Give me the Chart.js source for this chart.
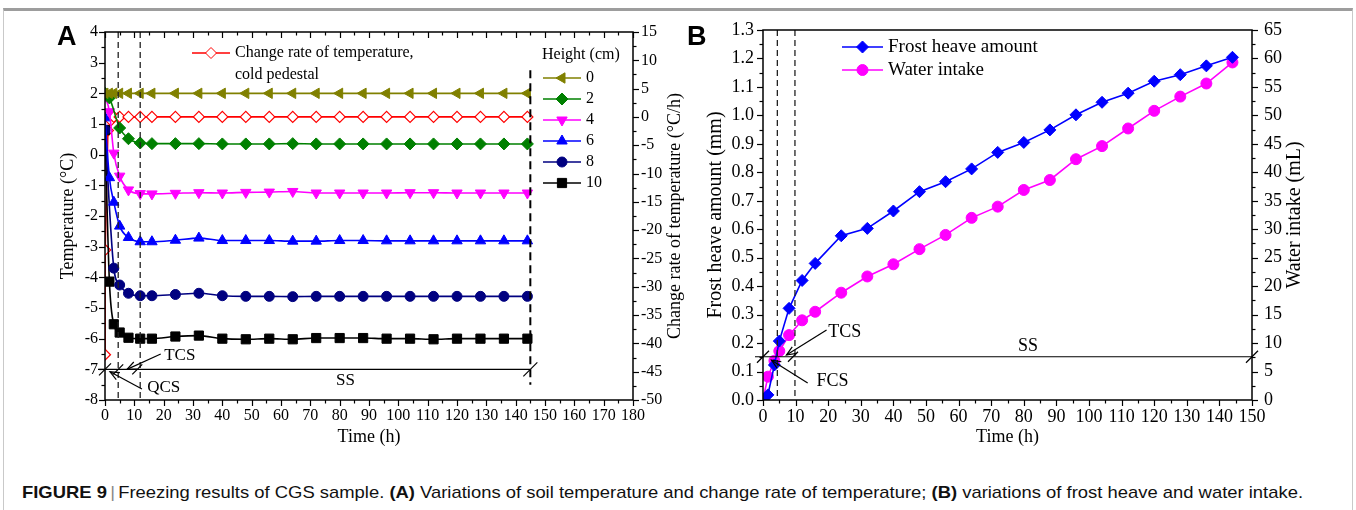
<!DOCTYPE html>
<html>
<head>
<meta charset="utf-8">
<script src="https://cdn.jsdelivr.net/npm/chart.js@4.4.1/dist/chart.umd.min.js"></script>
<style>
  html, body { margin:0; padding:0; background:#fff; }
  body { width:1356px; height:510px; position:relative; overflow:hidden; }
  .frame { position:absolute; left:3px; top:8px; width:1348px; height:520px;
           border-top:3px solid #9d9d9d; border-left:1px solid #c9c9c9; border-right:1px solid #c9c9c9; }
  #cA { position:absolute; left:0; top:0; }
  #cB { position:absolute; left:690px; top:0; }
  .panel { position:absolute; font-family:"Liberation Sans", Arial, sans-serif; font-weight:bold; font-size:27px; line-height:1; }
  #caption { position:absolute; left:22px; top:483px; white-space:nowrap; transform-origin:left top;
             font-family:"Liberation Sans Narrow", "Liberation Sans", Arial, sans-serif; font-size:17px; color:#111; }
  #caption b { font-weight:bold; }
  #caption .bar { color:#888; padding:0 3px; }
</style>
</head>
<body>
<div class="frame"></div>
<canvas id="cA" width="690" height="460"></canvas>
<canvas id="cB" width="666" height="460"></canvas>
<div class="panel" style="left:57px; top:23px;">A</div>
<div class="panel" style="left:687px; top:23px;">B</div>
<div id="caption"><b>FIGURE 9</b><span class="bar">|</span>Freezing results of CGS sample. <b>(A)</b> Variations of soil temperature and change rate of temperature; <b>(B)</b> variations of frost heave and water intake.</div>
<script>
/* ========= Datos (panel A) ========= */
const hoursA = [0, 1.5, 3, 5, 8, 12, 16, 24, 32, 40, 48, 56, 64, 72, 80, 88, 96, 104, 112, 120, 128, 136, 144];
const heightLabels = ['0', '2', '4', '6', '8', '10'];
const temp0  = [2.0, 2.0, 2.0, 2.0, 2.0, 2.0, 2.0, 2.0, 2.0, 2.0, 2.0, 2.0, 2.0, 2.0, 2.0, 2.0, 2.0, 2.0, 2.0, 2.0, 2.0, 2.0, 2.0];
const temp2  = [2.0, 1.85, null, 0.87, 0.52, 0.38, 0.36, 0.36, 0.36, 0.35, 0.35, 0.35, 0.36, 0.35, 0.35, 0.35, 0.35, 0.35, 0.35, 0.35, 0.35, 0.35, 0.35];
const temp4  = [1.9, 1.4, 0.05, -0.7, -1.15, -1.27, -1.28, -1.26, -1.24, -1.25, -1.23, -1.22, -1.2, -1.25, -1.25, -1.25, -1.25, -1.24, -1.24, -1.25, -1.25, -1.25, -1.25];
const temp6  = [1.2, -0.75, -1.55, -2.33, -2.7, -2.84, -2.84, -2.79, -2.72, -2.8, -2.8, -2.8, -2.82, -2.82, -2.8, -2.8, -2.81, -2.81, -2.81, -2.81, -2.81, -2.81, -2.81];
const temp8  = [0.8, null, -3.7, -4.25, -4.52, -4.6, -4.6, -4.56, -4.52, -4.6, -4.62, -4.62, -4.63, -4.62, -4.62, -4.62, -4.62, -4.62, -4.62, -4.62, -4.62, -4.62, -4.62];
const temp10 = [0.8, -4.14, -5.53, -5.8, -5.97, -6.0, -6.0, -5.93, -5.9, -6.0, -6.02, -6.0, -6.02, -5.98, -5.98, -5.98, -6.0, -6.0, -6.02, -6.0, -6.0, -6.0, -6.0];
const rateHours  = [0, 0.05, 1, 2, 3, 5, 8, 12, 16, 24, 32, 40, 48, 56, 64, 72, 80, 88, 96, 104, 112, 120, 128, 136, 144];
const rateValues = [-42, -23.5, -2.4, -0.6, 0, 0, 0, 0, 0, 0, 0, 0, 0, 0, 0, 0, 0, 0, 0, 0, 0, 0, 0, 0, 0];
const stageA = { quick: 4.5, transit: 12, end: 145, level: -7 };

/* ========= Datos (panel B) ========= */
const hoursB = [0, 1.5, 3.5, 5, 8, 12, 16, 24, 32, 40, 48, 56, 64, 72, 80, 88, 96, 104, 112, 120, 128, 136, 144];
const frostHeave  = [0, 0.018, 0.123, 0.207, 0.322, 0.42, 0.48, 0.577, 0.603, 0.664, 0.732, 0.767, 0.812, 0.87, 0.905, 0.949, 1.002, 1.046, 1.078, 1.12, 1.143, 1.174, 1.204];
const waterIntake = [0, 4.1, 6.9, 8.6, 11.4, 14.0, 15.5, 18.85, 21.7, 23.84, 26.5, 29.0, 32.0, 33.97, 36.9, 38.65, 42.3, 44.6, 47.7, 50.8, 53.3, 55.6, 59.3];
const stageB = { fast: 4.4, transit: 9.8, level: 0.152 };

/* ========= Estilo ========= */
const INK = '#000';
const SERIF = '"Liberation Serif", "Times New Roman", serif';
const seriesA = [
  { label: heightLabels[0], data: temp0,  color: '#808000', style: 'triangle', rot: -90, r: 6 },
  { label: heightLabels[1], data: temp2,  color: '#008000', style: 'rectRot',  rot: 0,   r: 6 },
  { label: heightLabels[2], data: temp4,  color: '#ff00ff', style: 'triangle', rot: 180, r: 6 },
  { label: heightLabels[3], data: temp6,  color: '#0000ff', style: 'triangle', rot: 0,   r: 6 },
  { label: heightLabels[4], data: temp8,  color: '#000080', style: 'circle',   rot: 0,   r: 5 },
  { label: heightLabels[5], data: temp10, color: '#000000', style: 'rect',     rot: 0,   r: 6.5 },
];

const xy = (xs, ys) => xs.map((x, i) => ({ x, y: ys[i] }));

/* ========= utils de dibujo ========= */
function marker(ctx, style, rot, r, x, y, fill, stroke) {
  ctx.save();
  ctx.fillStyle = fill; ctx.strokeStyle = stroke; ctx.lineWidth = 1;
  if (Chart.helpers && Chart.helpers.drawPoint) {
    Chart.helpers.drawPoint(ctx, { pointStyle: style, rotation: rot, radius: r, borderWidth: 1 }, x, y);
  } else {
    ctx.beginPath(); ctx.arc(x, y, r, 0, Math.PI * 2); ctx.fill(); ctx.stroke();
  }
  ctx.restore();
}
function arrow(ctx, x1, y1, x2, y2) {
  ctx.beginPath(); ctx.moveTo(x1, y1); ctx.lineTo(x2, y2); ctx.stroke();
  const a = Math.atan2(y2 - y1, x2 - x1), L = 10, w = 0.4;
  ctx.beginPath();
  ctx.moveTo(x2 - L * Math.cos(a - w), y2 - L * Math.sin(a - w));
  ctx.lineTo(x2, y2);
  ctx.lineTo(x2 - L * Math.cos(a + w), y2 - L * Math.sin(a + w));
  ctx.stroke();
}
function slash(ctx, x, y, s) {
  ctx.beginPath(); ctx.moveTo(x - s, y + s); ctx.lineTo(x + s, y - s); ctx.stroke();
}
function vText(ctx, text, x, y, size) {
  ctx.save(); ctx.translate(x, y); ctx.rotate(-Math.PI / 2);
  ctx.font = `${size}px ${SERIF}`; ctx.fillStyle = INK;
  ctx.textAlign = 'center'; ctx.textBaseline = 'middle';
  ctx.fillText(text, 0, 0); ctx.restore();
}
function hText(ctx, text, x, y, size, align) {
  ctx.save(); ctx.font = `${size}px ${SERIF}`; ctx.fillStyle = INK;
  ctx.textAlign = align || 'center'; ctx.textBaseline = 'middle';
  ctx.fillText(text, x, y); ctx.restore();
}
function legendItem(ctx, x1, x2, y, s, text, size) {
  ctx.save();
  ctx.strokeStyle = s.color; ctx.lineWidth = 1.6;
  ctx.beginPath(); ctx.moveTo(x1, y); ctx.lineTo(x2, y); ctx.stroke();
  marker(ctx, s.style, s.rot, s.r, (x1 + x2) / 2, y, s.fill || s.color, s.color);
  ctx.restore();
  hText(ctx, text, x2 + 5, y, size, 'left');
}
// marcas de eje: mayores y menores
function axisTicks(chart, specs) {
  const { ctx, chartArea: a } = chart;
  ctx.save(); ctx.strokeStyle = INK; ctx.lineWidth = 1.2;
  specs.forEach(s => {
    const sc = chart.scales[s.id];
    const n = Math.round((sc.max - sc.min) / s.minor);
    for (let i = 0; i <= n; i++) {
      const v = sc.min + i * s.minor;
      const isMajor = Math.abs(v / s.major - Math.round(v / s.major)) < 1e-6;
      const L = isMajor ? 6 : 3.5;
      const p = Math.round(sc.getPixelForValue(v)) + 0.5;
      ctx.beginPath();
      if (s.side === 'bottom') { ctx.moveTo(p, a.bottom); ctx.lineTo(p, a.bottom + L); }
      if (s.side === 'topIn')  { ctx.moveTo(p, a.top);    ctx.lineTo(p, a.top + L); }
      if (s.side === 'left')   { ctx.moveTo(a.left, p);   ctx.lineTo(a.left - L, p); }
      if (s.side === 'right')  { ctx.moveTo(a.right, p);  ctx.lineTo(a.right + L, p); }
      ctx.stroke();
    }
  });
  ctx.lineWidth = 1.5;
  ctx.strokeRect(a.left, a.top, a.width, a.height);
  ctx.restore();
}
function baseScale(min, max, step, size, padding, extra) {
  return Object.assign({
    type: 'linear', min, max,
    grid: { display: false, drawTicks: false },
    border: { display: false },
    ticks: { stepSize: step, autoSkip: false, maxRotation: 0, minRotation: 0, padding,
             color: INK, font: { family: SERIF, size } }
  }, extra);
}

/* ========= Panel A ========= */
const plugA = {
  id: 'plugA',
  afterDatasetsDraw(chart) {
    const { ctx, chartArea: a, scales: { x, y } } = chart;
    ctx.save();
    ctx.strokeStyle = '#222'; ctx.lineWidth = 1.3; ctx.setLineDash([6, 4]);
    [stageA.quick, stageA.transit].forEach(t => {
      const p = x.getPixelForValue(t);
      ctx.beginPath(); ctx.moveTo(p, a.top); ctx.lineTo(p, a.bottom); ctx.stroke();
    });
    ctx.lineWidth = 2; ctx.setLineDash([8, 5]); ctx.strokeStyle = INK;
    const pe = x.getPixelForValue(stageA.end);
    ctx.beginPath(); ctx.moveTo(pe, y.getPixelForValue(2.75)); ctx.lineTo(pe, y.getPixelForValue(-7.5)); ctx.stroke();
    ctx.setLineDash([]); ctx.lineWidth = 1.2;
    const ly = y.getPixelForValue(stageA.level);
    ctx.beginPath(); ctx.moveTo(a.left - 7, ly); ctx.lineTo(pe, ly); ctx.stroke();
    slash(ctx, x.getPixelForValue(0), ly, 6);
    slash(ctx, x.getPixelForValue(stageA.quick), ly, 5);
    slash(ctx, x.getPixelForValue(11), ly, 5);
    slash(ctx, pe, ly, 7);
    arrow(ctx, x.getPixelForValue(19), y.getPixelForValue(-6.5), x.getPixelForValue(7.5), ly);
    arrow(ctx, x.getPixelForValue(12.6), y.getPixelForValue(-7.64), x.getPixelForValue(1.7), y.getPixelForValue(-7.08));
    ctx.restore();
    hText(ctx, 'TCS', x.getPixelForValue(25.5), y.getPixelForValue(-6.56), 17);
    hText(ctx, 'QCS', x.getPixelForValue(20), y.getPixelForValue(-7.6), 17);
    hText(ctx, 'SS', x.getPixelForValue(82), y.getPixelForValue(-7.38), 17);
  },
  afterDraw(chart) {
    const { ctx, chartArea: a } = chart;
    axisTicks(chart, [
      { id: 'x', major: 10, minor: 5, side: 'bottom' },
      { id: 'x', major: 10, minor: 5, side: 'topIn' },
      { id: 'y', major: 1, minor: 0.5, side: 'left' },
      { id: 'y1', major: 5, minor: 2.5, side: 'right' },
    ]);
    vText(ctx, 'Temperature (°C)', a.left - 37, (a.top + a.bottom) / 2, 18);
    vText(ctx, 'Change rate of temperature (°C/h)', a.right + 42, (a.top + a.bottom) / 2, 18);
    hText(ctx, 'Time (h)', (a.left + a.right) / 2, 437, 18);
    // leyendas
    legendItem(ctx, 192, 230, 53, { color: '#ff0000', fill: '#fff', style: 'rectRot', rot: 0, r: 5.5 }, 'Change rate of temperature,', 16);
    hText(ctx, 'cold pedestal', 235, 75, 16, 'left');
    hText(ctx, 'Height (cm)', 542, 55, 16, 'left');
    seriesA.forEach((s, i) => legendItem(ctx, 543, 581, 78 + i * 21, s, s.label, 16));
  }
};

new Chart(document.getElementById('cA'), {
  type: 'line',
  data: {
    datasets: [
      ...seriesA.map(s => ({
        label: s.label, data: xy(hoursA, s.data), yAxisID: 'y',
        borderColor: s.color, backgroundColor: s.color, borderWidth: 1.6,
        pointStyle: s.style, pointRotation: s.rot, pointRadius: s.r, pointBorderWidth: 1,
        cubicInterpolationMode: 'monotone', spanGaps: true
      })),
      {
        label: 'Change rate of temperature, cold pedestal', data: xy(rateHours, rateValues), yAxisID: 'y1',
        borderColor: '#ff0000', backgroundColor: '#ffffff', borderWidth: 1.6,
        pointStyle: 'rectRot', pointRadius: 5.5, pointBorderWidth: 1.2,
        clip: { left: 0, top: false, right: false, bottom: false }
      }
    ]
  },
  options: {
    responsive: false, animation: false, devicePixelRatio: 1,
    layout: { padding: { top: 32, left: 0, right: 0, bottom: 0 } },
    plugins: { legend: { display: false }, tooltip: { enabled: false } },
    scales: {
      x: baseScale(0, 180, 10, 16, 6, { afterFit: s => { s.height = 60; } }),
      y: baseScale(-8, 4, 1, 16, 7, { position: 'left', afterFit: s => { s.width = 105; } }),
      y1: baseScale(-50, 15, 5, 16, 8, { position: 'right', afterFit: s => { s.width = 57; } })
    }
  },
  plugins: [plugA]
});

/* ========= Panel B ========= */
const frostStyle = { color: '#0000ff', style: 'rectRot', rot: 0, r: 6 };
const waterStyle = { color: '#ff00ff', style: 'circle', rot: 0, r: 5.5 };

const plugB = {
  id: 'plugB',
  afterDatasetsDraw(chart) {
    const { ctx, chartArea: a, scales: { x, y } } = chart;
    ctx.save();
    ctx.strokeStyle = '#222'; ctx.lineWidth = 1.3; ctx.setLineDash([6, 4]);
    [stageB.fast, stageB.transit].forEach(t => {
      const p = x.getPixelForValue(t);
      ctx.beginPath(); ctx.moveTo(p, a.top); ctx.lineTo(p, a.bottom); ctx.stroke();
    });
    ctx.setLineDash([]); ctx.strokeStyle = INK; ctx.lineWidth = 1.2;
    const ly = y.getPixelForValue(stageB.level);
    ctx.beginPath(); ctx.moveTo(a.left - 8, ly); ctx.lineTo(a.right, ly); ctx.stroke();
    slash(ctx, x.getPixelForValue(0), ly, 6);
    slash(ctx, x.getPixelForValue(9.2), ly, 5);
    slash(ctx, a.right, ly, 6);
    arrow(ctx, x.getPixelForValue(19.5), y.getPixelForValue(0.246), x.getPixelForValue(7.2), y.getPixelForValue(0.158));
    arrow(ctx, x.getPixelForValue(13.7), y.getPixelForValue(0.06), x.getPixelForValue(2.6), y.getPixelForValue(0.14));
    ctx.restore();
    hText(ctx, 'TCS', x.getPixelForValue(25.1), y.getPixelForValue(0.239), 18);
    hText(ctx, 'FCS', x.getPixelForValue(21.3), y.getPixelForValue(0.067), 18);
    hText(ctx, 'SS', x.getPixelForValue(81.3), y.getPixelForValue(0.19), 18);
  },
  afterDraw(chart) {
    const { ctx, chartArea: a } = chart;
    axisTicks(chart, [
      { id: 'x', major: 10, minor: 5, side: 'bottom' },
      { id: 'y', major: 0.1, minor: 0.05, side: 'left' },
      { id: 'y1', major: 5, minor: 2.5, side: 'right' },
    ]);
    vText(ctx, 'Frost heave amount (mm)', a.left - 47, (a.top + a.bottom) / 2, 20);
    vText(ctx, 'Water intake (mL)', a.right + 43, (a.top + a.bottom) / 2, 20);
    hText(ctx, 'Time (h)', (a.left + a.right) / 2, 437, 18);
    legendItem(ctx, 152, 193, 47, frostStyle, 'Frost heave amount', 19);
    legendItem(ctx, 152, 193, 70, waterStyle, 'Water intake', 19);
  }
};

new Chart(document.getElementById('cB'), {
  type: 'line',
  data: {
    datasets: [
      {
        label: 'Frost heave amount', data: xy(hoursB, frostHeave), yAxisID: 'y',
        borderColor: frostStyle.color, backgroundColor: frostStyle.color, borderWidth: 1.6,
        pointStyle: frostStyle.style, pointRadius: frostStyle.r, pointBorderWidth: 1
      },
      {
        label: 'Water intake', data: xy(hoursB, waterIntake), yAxisID: 'y1',
        borderColor: waterStyle.color, backgroundColor: waterStyle.color, borderWidth: 1.6,
        pointStyle: waterStyle.style, pointRadius: waterStyle.r, pointBorderWidth: 1
      }
    ]
  },
  options: {
    responsive: false, animation: false, devicePixelRatio: 1,
    layout: { padding: { top: 30, left: 0, right: 0, bottom: 0 } },
    plugins: { legend: { display: false }, tooltip: { enabled: false } },
    scales: {
      x: baseScale(0, 150, 10, 18, 6, { afterFit: s => { s.height = 60; } }),
      y: baseScale(0, 1.3, 0.1, 18, 9, { position: 'left', afterFit: s => { s.width = 73; } }),
      y1: baseScale(0, 65, 5, 18, 12, { position: 'right', afterFit: s => { s.width = 104; } })
    }
  },
  plugins: [plugB]
});
// formato 0.0 en el eje izquierdo de B
Chart.getChart('cB').options.scales.y.ticks.callback = v => Number(v).toFixed(1);
Chart.getChart('cB').update();

/* ========= Caption: ajustar ancho ========= */
const cap = document.getElementById('caption');
const w = cap.getBoundingClientRect().width;
if (w > 0) cap.style.transform = `scaleX(${(1281 / w).toFixed(4)})`;
</script>
</body>
</html>
